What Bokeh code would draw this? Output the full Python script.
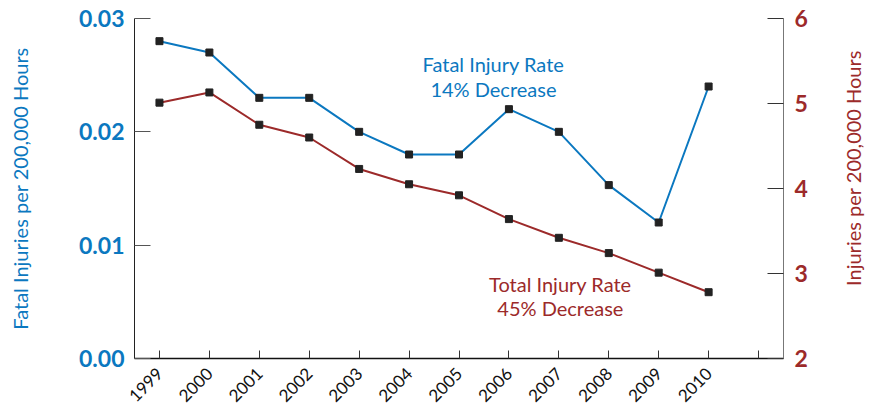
import math
from bokeh.plotting import figure
from bokeh.layouts import row
from bokeh.models import (Range1d, LinearAxis, FixedTicker, PrintfTickFormatter,
                          Label, ColumnDataSource)
from bokeh.embed import file_html
from bokeh.resources import INLINE

years = [1999, 2000, 2001, 2002, 2003, 2004, 2005, 2006, 2007, 2008, 2009, 2010]
fatal_rate = [0.028, 0.027, 0.023, 0.023, 0.020, 0.018, 0.018, 0.022, 0.020, 0.0153, 0.012, 0.024]
total_rate = [5.01, 5.13, 4.75, 4.60, 4.23, 4.05, 3.92, 3.64, 3.42, 3.24, 3.01, 2.78]
x_ticks = [1999, 2000, 2001, 2002, 2003, 2004, 2005, 2006, 2007, 2008, 2009, 2010, 2011]
left_ticks = [0.0, 0.01, 0.02, 0.03]
right_ticks = [2, 3, 4, 5, 6]
right_title = "Injuries per 200,000 Hours"

BLUE = "#0b78c0"
RED = "#9c2a2a"
FONT = "Lato"
H = 416

src = ColumnDataSource(dict(year=years, fatal=fatal_rate, total=total_rate))

p = figure(width=836, height=H, output_backend="svg", toolbar_location=None,
           x_range=Range1d(1998.5, 2011.5), y_range=Range1d(0, 0.03),
           min_border_left=134, min_border_right=53, min_border_top=18,
           min_border_bottom=58)
p.extra_y_ranges = {"total": Range1d(2, 6)}
p.outline_line_color = None
p.xgrid.visible = False
p.ygrid.visible = False

# lines
p.line("year", "fatal", source=src, line_color=BLUE, line_width=2)
p.line("year", "total", source=src, line_color=RED, line_width=2, y_range_name="total")
p.scatter("year", "fatal", source=src, marker="square", size=7,
          fill_color="#222222", line_color="#222222")
p.scatter("year", "total", source=src, marker="square", size=7,
          fill_color="#222222", line_color="#222222", y_range_name="total")

# x axis
xa = p.xaxis[0]
xa.ticker = FixedTicker(ticks=x_ticks)
xa.major_label_overrides = {2011: ""}
xa.major_label_orientation = math.pi / 4
xa.major_label_text_font = FONT
xa.major_label_text_font_size = "17px"
xa.major_label_text_color = "#111111"
xa.major_tick_in = 8
xa.major_tick_out = 0
xa.minor_tick_line_color = None
xa.axis_line_color = "#111111"
xa.axis_line_width = 1.5
xa.major_tick_line_color = "#333333"
xa.major_label_standoff = 12

# left axis
ya = p.yaxis[0]
ya.ticker = FixedTicker(ticks=left_ticks)
ya.formatter = PrintfTickFormatter(format="%.2f")
ya.major_label_text_font = FONT
ya.major_label_text_font_style = "bold"
ya.major_label_text_font_size = "23px"
ya.major_label_text_color = BLUE
ya.major_tick_in = 16
ya.major_tick_out = 0
ya.minor_tick_line_color = None
ya.axis_line_color = "#222222"
ya.major_tick_line_color = "#555555"
ya.major_label_standoff = 10
ya.axis_label = "Fatal Injuries per 200,000 Hours"
ya.axis_label_text_font = FONT
ya.axis_label_text_font_style = "normal"
ya.axis_label_text_font_size = "20px"
ya.axis_label_text_color = BLUE
ya.axis_label_standoff = 44

# right axis
ra = LinearAxis(y_range_name="total", ticker=FixedTicker(ticks=right_ticks))
ra.major_label_text_font = FONT
ra.major_label_text_font_style = "bold"
ra.major_label_text_font_size = "23px"
ra.major_label_text_color = RED
ra.major_tick_in = 16
ra.major_tick_out = 0
ra.minor_tick_line_color = None
ra.axis_line_color = "#777777"
ra.major_tick_line_color = "#333333"
ra.major_label_standoff = 11
p.add_layout(ra, "right")

# annotations
for txt, yv in [("Fatal Injury Rate", 0.0260), ("14% Decrease", 0.0238)]:
    p.add_layout(Label(x=2005.69, y=yv, text=txt, text_align="center",
                       text_baseline="middle", text_font=FONT,
                       text_font_size="20px", text_color=BLUE))
for txt, yv in [("Total Injury Rate", 2.88), ("45% Decrease", 2.59)]:
    p.add_layout(Label(x=2007.03, y=yv, y_range_name="total", text=txt,
                       text_align="center", text_baseline="middle",
                       text_font=FONT, text_font_size="20px", text_color=RED))

# narrow side panel carrying the right-hand axis title (reads bottom to top)
p2 = figure(width=30, height=H, output_backend="svg", toolbar_location=None,
            x_range=Range1d(0, 30), y_range=Range1d(0, H), min_border=0,
            x_axis_type=None, y_axis_type=None)
p2.outline_line_color = None
p2.xgrid.visible = False
p2.ygrid.visible = False
p2.add_layout(Label(x=16, y=H - 183, text=right_title, angle=math.pi / 2,
                    text_align="center", text_baseline="middle", text_font=FONT,
                    text_font_size="20px", text_color=RED))

layout = row(p, p2, spacing=0)
open("out.html", "w").write(file_html(layout, INLINE))
